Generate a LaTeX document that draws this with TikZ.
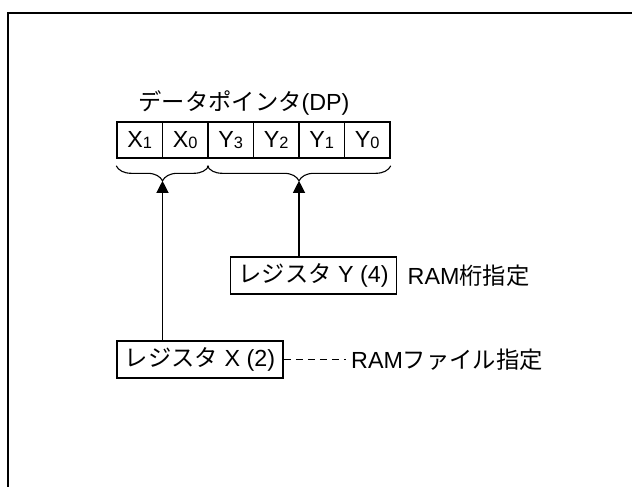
\documentclass[tikz,border=0pt]{standalone}
\usepackage{fontspec}
\setmainfont{Liberation Sans}
\newfontfamily\jpfont{Noto Sans CJK JP}
\usetikzlibrary{matrix,positioning,arrows.meta,decorations.pathreplacing}
\newcommand\dpsub[1]{\raisebox{-0.4pt}{\fontsize{8.2}{8.2}\selectfont #1}}
\tikzset{
dpmat/.style={
  matrix of nodes,
  line width=0.8pt,
  nodes={draw=black, minimum width=22.75pt, minimum height=18pt,
         inner sep=0pt, anchor=center},
  column sep=-\pgflinewidth
  }
}
\tikzset{
  regbox/.style={draw=black, line width=0.8pt, minimum width=83pt,
                 minimum height=18.5pt, inner sep=0pt},
  dpbrace/.style={decorate, decoration={brace, amplitude=7.5pt, mirror},
                  line width=0.55pt},
  lbl/.style={inner sep=0pt}
}
\begin{document}
\begin{tikzpicture}[x=0.5pt, y=-0.5pt, >={Triangle[length=6pt,width=6pt]},
  font=\fontsize{11.65}{14}\selectfont]
\useasboundingbox (0,0) rectangle (632,487);
% frame
\draw[line width=1pt] (8,490) -- (8,13) -- (640,13);

\node (dptitle) at (244,103) {{\jpfont データポインタ}(DP)};
\matrix[dpmat] at (253.5,140) (dp)
{
  X\dpsub{1} & X\dpsub{0} & Y\dpsub{3} & Y\dpsub{2} & Y\dpsub{1} & Y\dpsub{0} \\
};

% braces under the pointer
\draw[dpbrace] ([yshift=-3.5pt]dp-1-1.south west) --
  ([yshift=-3.5pt]dp-1-2.south east)
  node[midway, yshift=-7.5pt, coordinate] (xtip) {};
\draw[dpbrace] ([yshift=-3.5pt]dp-1-3.south west) --
  ([yshift=-3.5pt]dp-1-6.south east)
  node[midway, yshift=-7.5pt, coordinate] (ytip) {};

\node[regbox] (regy) at (313.5,275.5) {{\jpfont レジスタ} Y (4)};
\node[regbox] (regx) at (200,359.5) {{\jpfont レジスタ} X (2)};
\node[lbl, right=5pt of regy] (ylbl) {RAM{\jpfont 桁指定}};
\node[lbl, right=33.5pt of regx] (xlbl) {RAM{\jpfont ファイル指定}};

\draw[->, line width=0.6pt] (regx.north -| xtip) -- (xtip);
\draw[->, line width=0.6pt] (regy.north -| ytip) -- (ytip);
\draw[line width=0.55pt, dash pattern=on 3.5pt off 2.5pt]
  (regx.east) -- ([xshift=-2.5pt]xlbl.west);
\end{tikzpicture}
\end{document}
